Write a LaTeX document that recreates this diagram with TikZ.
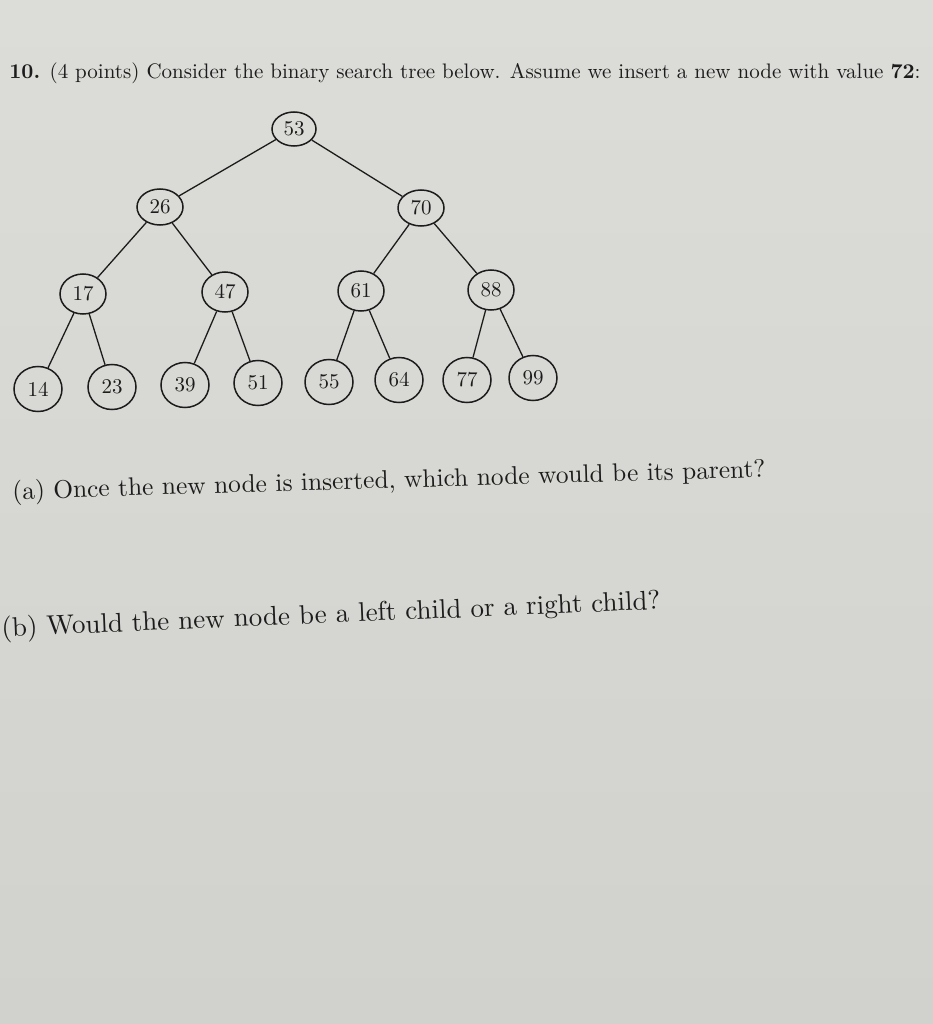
\documentclass[tikz,border=0pt]{standalone}
\usepackage{xcolor}
\usepackage{graphicx}
\usepackage{tikz}
\usetikzlibrary{shapes.geometric, positioning}
\definecolor{paper}{RGB}{214,214,210}
\definecolor{paper top}{RGB}{220,220,217}
\definecolor{paper bottom}{RGB}{209,209,205}
\definecolor{ink}{RGB}{28,28,28}
\newcommand{\keyval}[1]{\scalebox{2.1}{#1}}
\tikzstyle{key} = [ellipse, inner sep=0pt, draw=ink, line width=1.5pt, text=ink, font=\fontsize{10}{12}\selectfont]
\tikzstyle{question} = [anchor=west, inner sep=0pt, text=ink, font=\fontsize{10}{12}\selectfont, transform shape]
\tikzstyle{edge} = [ink, line width=1.3pt]
\begin{document}
\begin{tikzpicture}[x=1pt, y=-1pt]
		\shade[top color=paper top, bottom color=paper bottom] (0,0) rectangle (933,1024);
		\useasboundingbox (0,0) rectangle (933,1024);
		\node (Header)[question, scale=2.1] at (9,73) {\textbf{10.} (4 points) Consider the binary search tree below. Assume we insert a new node with value \textbf{72}:};
		% tree
		\node (Node 53)[key, minimum width=44pt, minimum height=34pt] at (294,129) {\keyval{53}};
		\node (Node 26)[key, minimum width=46pt, minimum height=36pt] at (160,207) {\keyval{26}};
		\node (Node 70)[key, minimum width=46pt, minimum height=36pt] at (421,208) {\keyval{70}};
		\node (Node 17)[key, minimum width=46pt, minimum height=40pt] at (83,294) {\keyval{17}};
		\node (Node 47)[key, minimum width=46pt, minimum height=40pt] at (225,292) {\keyval{47}};
		\node (Node 61)[key, minimum width=46pt, minimum height=40pt] at (361,291) {\keyval{61}};
		\node (Node 88)[key, minimum width=46pt, minimum height=40pt] at (491,290) {\keyval{88}};
		\node (Node 14)[key, minimum width=48pt, minimum height=45pt] at (38,389) {\keyval{14}};
		\node (Node 23)[key, minimum width=48pt, minimum height=45pt] at (112,387) {\keyval{23}};
		\node (Node 39)[key, minimum width=48pt, minimum height=45pt] at (185,385) {\keyval{39}};
		\node (Node 51)[key, minimum width=48pt, minimum height=45pt] at (258,383) {\keyval{51}};
		\node (Node 55)[key, minimum width=48pt, minimum height=45pt] at (329,382) {\keyval{55}};
		\node (Node 64)[key, minimum width=48pt, minimum height=45pt] at (399,380) {\keyval{64}};
		\node (Node 77)[key, minimum width=48pt, minimum height=45pt] at (467,380) {\keyval{77}};
		\node (Node 99)[key, minimum width=48pt, minimum height=45pt] at (533,378) {\keyval{99}};
		\draw [edge] (Node 53) -- (Node 26);
		\draw [edge] (Node 53) -- (Node 70);
		\draw [edge] (Node 26) -- (Node 17);
		\draw [edge] (Node 26) -- (Node 47);
		\draw [edge] (Node 70) -- (Node 61);
		\draw [edge] (Node 70) -- (Node 88);
		\draw [edge] (Node 17) -- (Node 14);
		\draw [edge] (Node 17) -- (Node 23);
		\draw [edge] (Node 47) -- (Node 39);
		\draw [edge] (Node 47) -- (Node 51);
		\draw [edge] (Node 61) -- (Node 55);
		\draw [edge] (Node 61) -- (Node 64);
		\draw [edge] (Node 88) -- (Node 77);
		\draw [edge] (Node 88) -- (Node 99);
		% questions
		\node (Part A)[question, scale=2.54, rotate=1.7] at (12,493) {(a) Once the new node is inserted, which node would be its parent?};
		\node (Part B)[question, scale=2.7, rotate=2.4] at (1,630) {(b) Would the new node be a left child or a right child?};
	\end{tikzpicture}
\end{document}
